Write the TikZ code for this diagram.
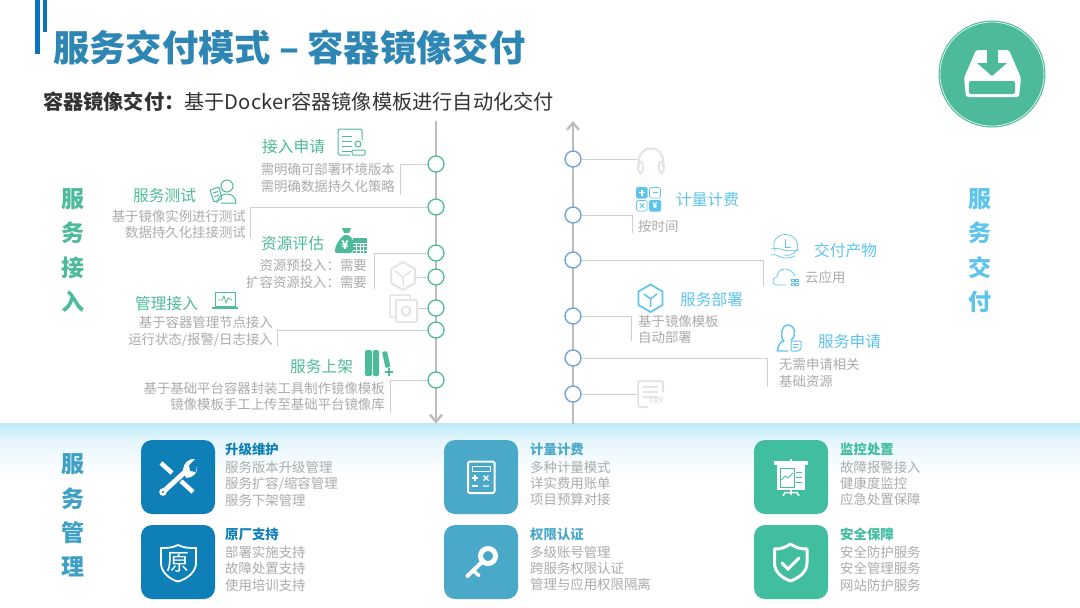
\documentclass[tikz,border=0pt]{standalone}
\usepackage{fontspec}
\setmainfont{Noto Sans CJK SC}
\usetikzlibrary{arrows.meta}
\definecolor{titleblue}{HTML}{2E86B4}
\definecolor{barblue}{HTML}{0A70C0}
\definecolor{leafgreen}{HTML}{4DBB9B}
\definecolor{skyblue}{HTML}{5EC4EC}
\definecolor{tileblue}{HTML}{0F7FB8}
\definecolor{tilelake}{HTML}{4AA8C8}
\definecolor{tilegreen}{HTML}{41BD9F}
\definecolor{notegray}{HTML}{ABABAB}
\definecolor{axisgray}{HTML}{BDBDBD}
\definecolor{linegray}{HTML}{CFCFCF}
\definecolor{fadegray}{HTML}{E4E4E4}
\definecolor{dotblue}{HTML}{6B9FD6}
\definecolor{bandtop}{HTML}{BDEBF8}
\definecolor{bandmid}{HTML}{E6F6FC}
\tikzset{
  note/.style={inner sep=0pt,text=notegray,font=\fontsize{13.4}{16.2}\selectfont},
  noter/.style={note,anchor=east,align=right},
  notel/.style={note,anchor=west,align=left},
  head/.style={inner sep=0pt,anchor=west,font=\fontsize{15.7}{18}\selectfont},
  tilehead/.style={inner sep=0pt,anchor=west,font=\fontsize{13.4}{16}\selectfont\bfseries},
  side/.style={inner sep=0pt,align=center,font=\fontsize{23}{34.4}\selectfont\bfseries},
  tile/.style={minimum size=74pt,inner sep=0pt,rounded corners=11pt},
  axisline/.style={draw=axisgray,line width=2.4pt,-{Straight Barb[length=7pt,width=12pt,line width=2.4pt]}},
  elbow/.style={draw=linegray,line width=1pt},
  dotg/.style={circle,draw=leafgreen,fill=white,line width=1.3pt,minimum size=16pt,inner sep=0pt},
  dotb/.style={circle,draw=dotblue,fill=white,line width=1.3pt,minimum size=16pt,inner sep=0pt},
  icong/.style={draw=leafgreen,line width=1pt},
  iconb/.style={draw=skyblue,line width=1pt},
  iconf/.style={draw=fadegray,line width=2pt},
  iconw/.style={draw=white,line width=2pt},
}
\begin{document}
\begin{tikzpicture}[x=1pt,y=-1pt]
    \useasboundingbox (0,0) rectangle (1080,608);
    \fill[white] (0,0) rectangle (1080,608);
    % title bars and heading
    \fill[barblue] (35,0) rectangle (40,53.5);
    \fill[barblue] (42.7,0) rectangle (47.3,32);
    \node[inner sep=0pt,anchor=west,text=titleblue,font=\fontsize{36.3}{40}\selectfont\bfseries] (title) at (53,47) {服务交付模式 – 容器镜像交付};
    \node[inner sep=0pt,anchor=west,text=black!80,font=\fontsize{20.2}{24}\selectfont] (subtitle) at (43,102) {\textbf{容器镜像交付：}基于Docker容器镜像模板进行自动化交付};
    % round badge
    \fill[leafgreen] (992,74) circle (53.5);
    \draw[white,line width=0.6pt] (992,74) circle (52);
    \fill[white,rounded corners=2.5pt] (976,50) -- (1009,50) -- (1021,78) -- (1019,97) -- (966,97) -- (964,78) -- cycle;
    \fill[leafgreen,rounded corners=2pt] (969,81) rectangle (1015,94);
    \fill[leafgreen] (987,49) -- (998,49) -- (998,63) -- (1007,63) -- (992,76) -- (977,63) -- (987,63) -- cycle;
    % bottom band
    \shade[top color=bandtop,bottom color=bandmid] (0,423.5) rectangle (1080,441);
    \shade[top color=bandmid,bottom color=white] (0,441) rectangle (1080,475);
    % two axes
    \coordinate (ltop) at (436,121);
    \coordinate (lend) at (436,423.5);
    \coordinate (rbot) at (573,423.5);
    \coordinate (rtop) at (573,121);
    \draw[axisline] (ltop) -- (lend);
    \draw[axisline] (rbot) -- (rtop);
    % points on the axes
    \foreach \n/\y in {la/164,lb/207,lc/253,ld/277,le/308,lf/330,lg/380}
      \node[dotg] (\n) at (436,\y) {};
    \foreach \n/\y in {ra/159,rb/215,rc/260,rd/316,re/358,rf/394}
      \node[dotb] (\n) at (573,\y) {};
    % elbow lines, left
    \foreach \n/\x/\y in {la/400/195,lb/250/238,lc/374/289,lf/277/346,lg/390/413} {
      \coordinate (\n e) at (\x,\y);
      \draw[elbow] (\n) -| (\n e);}
    \coordinate (lde) at (417,277);
    \coordinate (lee) at (417,308);
    \draw[elbow] (ld) -- (lde);
    \draw[elbow] (le) -- (lee);
    % elbow lines, right
    \foreach \n/\x/\y in {rb/632/233,rc/763/286,rd/631/341,re/767/387} {
      \coordinate (\n e) at (\x,\y);
      \draw[elbow] (\n) -| (\n e);}
    \coordinate (rae) at (637,159);
    \coordinate (rfe) at (637,394);
    \draw[elbow] (ra) -- (rae);
    \draw[elbow] (rf) -- (rfe);
    % side labels
    \node[side,text=leafgreen] (sidein) at (73,250.5) {服\\务\\接\\入};
    \node[side,text=skyblue] (sideout) at (980,250.5) {服\\务\\交\\付};
    \node[side,text=tilelake!80!tileblue] (sidemgr) at (73,515.5) {服\\务\\管\\理};
    % left labels
    \node[head,text=leafgreen] (h1) at (262,147) {接入申请};
    \node[noter] (n1) at (395,178) {需明确可部署环境版本\\需明确数据持久化策略};
    \node[head,text=leafgreen] (h2) at (133,196) {服务测试};
    \node[noter] (n2) at (246,224) {基于镜像实例进行测试\\数据持久化挂接测试};
    \node[head,text=leafgreen] (h3) at (261,244) {资源评估};
    \node[noter] (n3) at (367,274) {资源预投入：需要\\扩容资源投入：需要};
    \node[head,text=leafgreen] (h4) at (135,304) {管理接入};
    \node[noter] (n4) at (273,331.5) {基于容器管理节点接入\\运行状态/报警/日志接入};
    \node[head,text=leafgreen] (h5) at (290,367) {服务上架};
    \node[noter] (n5) at (385,396) {基于基础平台容器封装工具制作镜像模板\\镜像模板手工上传至基础平台镜像库};
    % right labels
    \node[head,text=skyblue] (h6) at (676,200) {计量计费};
    \node[notel] (n6) at (638,226) {按时间};
    \node[head,text=skyblue] (h7) at (814,251) {交付产物};
    \node[notel] (n7) at (805,277) {云应用};
    \node[head,text=skyblue] (h8) at (680,300) {服务部署};
    \node[notel] (n8) at (638,329.5) {基于镜像模板\\自动部署};
    \node[head,text=skyblue] (h9) at (818,342) {服务申请};
    \node[notel] (n9) at (779,373) {无需申请相关\\基础资源};
    % left icons
    \draw[icong,rounded corners=2pt] (350,155) -- (338,155) -- (338,129) -- (362,129) -- (362,140);
    \foreach \y in {136,141,146,151} \draw[icong] (342,\y) -- (352,\y);
    \draw[icong,fill=white] (358,144) circle (3);
    \draw[icong,fill=white,rounded corners=1pt] (352,150) rectangle (365,155);
    \draw[icong] (227,186) circle (6);
    \draw[icong] (217,203) .. controls (218,191) and (236,191) .. (236,203) -- (221,203);
    \draw[icong,rounded corners=1pt] (210,190) -- (219,187) -- (222,199) -- (214,202) -- cycle;
    \draw[icong] (213,193) -- (218,191.5) (214,197) -- (219,195);
    \fill[leafgreen] (342,228) -- (351,228) -- (349,233) -- (344,233) -- cycle;
    \fill[leafgreen,rounded corners=3pt] (344,235) -- (349,235) .. controls (353,239) and (353,240) .. (353,253) -- (339,253) .. controls (334,253) and (334,244) .. (344,235);
    \node[inner sep=0pt,text=white,font=\fontsize{12}{12}\selectfont\bfseries] (yen) at (345,245) {¥};
    \fill[leafgreen] (353,238) rectangle (367,253);
    \foreach \x in {356.5,360,363.5} \draw[white,line width=0.7pt] (\x,243) -- (\x,253);
    \foreach \y in {243,246.5,250} \draw[white,line width=0.7pt] (353,\y) -- (367,\y);
    \draw[icong] (215,292) rectangle (235,306);
    \draw[icong,line width=1.5pt] (212,308) -- (238,308);
    \draw[icong,line width=0.7pt] (218,300) -- (222,300) -- (224,296) -- (226,303) -- (228,298) -- (232,300);
    \fill[leafgreen,rounded corners=1.5pt] (365,350) rectangle (372,376);
    \fill[leafgreen,rounded corners=1.5pt] (373,350) rectangle (379,376);
    \fill[leafgreen,rounded corners=1pt] (382,352) -- (387,351) -- (390.5,367) -- (385.5,368) -- cycle;
    \draw[icong,line width=1.5pt] (385,372) -- (393,372) (389,368) -- (389,376);
    % faded icons, left
    \draw[iconf] (403,262) -- (415,269) -- (415,283) -- (403,290) -- (391,283) -- (391,269) -- cycle;
    \draw[iconf,line width=1.5pt] (395,271) -- (403,277) -- (411,271) (403,277) -- (403,286);
    \draw[iconf,line width=1.5pt,rounded corners=1pt] (397,317) -- (390,317) -- (390,295) -- (410,295) -- (410,299);
    \draw[iconf,rounded corners=1pt,fill=white] (396,300) rectangle (417,322);
    \draw[iconf] (406,311) circle (4.5);
    % right icons
    \draw[iconf] (639,167) .. controls (635,142) and (667,142) .. (663,167);
    \draw[iconf] (643,166) .. controls (643,160) and (638,160) .. (638,166) .. controls (638,176) and (643,176) .. (643,166);
    \draw[iconf] (659,166) .. controls (659,160) and (664,160) .. (664,166) .. controls (664,176) and (659,176) .. (659,166);
    \fill[skyblue,rounded corners=1.5pt] (636,187) rectangle (647.5,198.5);
    \draw[iconb,rounded corners=1.5pt,line width=0.7pt] (649.5,187.5) rectangle (660.5,198);
    \draw[iconb,rounded corners=1.5pt,line width=0.7pt] (636.5,200.5) rectangle (647,211);
    \fill[skyblue,rounded corners=1.5pt] (649,200) rectangle (661,211.5);
    \draw[white,line width=1.2pt] (639,192.7) -- (645,192.7) (642,190) -- (642,195.5);
    \draw[skyblue,line width=1pt] (652.5,192.7) -- (657.5,192.7);
    \draw[skyblue,line width=0.9pt] (640,203.5) -- (644,208) (644,203.5) -- (640,208);
    \node[inner sep=0pt,text=white,font=\fontsize{8}{8}\selectfont\bfseries] (yenb) at (655,205.7) {¥};
    \draw[iconb,line width=0.7pt] (775,251) .. controls (767,229) and (803,229) .. (797,251);
    \draw[iconb,line width=0.7pt] (785,239) -- (785,247) -- (791,247);
    \draw[iconb,line width=0.7pt] (771,249) .. controls (778,246) and (784,253) .. (797,250) .. controls (793,255) and (789,256) .. (784,255);
    \draw[iconb,line width=0.7pt] (771,255) .. controls (779,253) and (781,262) .. (795,256);
    \draw[iconb,line width=0.7pt] (786,285) -- (777,285) .. controls (771,285) and (772,277) .. (777,277) .. controls (777,267) and (791,266) .. (795,276);
    \foreach \x in {791,795} \foreach \y in {279,283} \draw[iconb,line width=0.6pt] (\x,\y) rectangle +(3,2.5);
    \draw[iconb,line width=1.7pt] (650.5,284.5) -- (662.5,291.5) -- (662.5,305) -- (650.5,312) -- (638.5,305) -- (638.5,291.5) -- cycle;
    \draw[iconb,line width=1.5pt] (644,294) -- (650.5,299) -- (657,294) (650.5,299) -- (650.5,307);
    \draw[iconb,line width=1.4pt] (784,342) .. controls (780,337) and (781,325) .. (788,325) .. controls (795,325) and (797,336) .. (791,340);
    \draw[iconb,line width=1.4pt] (784,340) .. controls (780,342) and (778,346) .. (777.5,351) -- (788,351);
    \draw[iconb,rounded corners=1pt] (791,341) -- (801,341) -- (801,349) -- (798,351) -- (791,351) -- cycle;
    \draw[iconb,line width=0.7pt] (793,344) -- (799,344) (793,347) -- (798,347);
    \draw[iconf,rounded corners=2pt] (648,407) -- (638,407) -- (638,381) -- (663,381) -- (663,392);
    \foreach \y in {387,392,397} \draw[iconf,line width=1.3pt] (643,\y) -- (658,\y);
    \node[inner sep=0pt,text=fadegray,font=\fontsize{8}{8}\selectfont\bfseries] (tryicon) at (656,401) {TRY};
    % management tiles
    \foreach \n/\x/\y/\c in {ta/178/477/tileblue,tb/178/562/tileblue,tc/481/477/tilelake,td/481/562/tilelake,te/791/477/tilegreen,tf/791/562/tilegreen}
      \node[tile,fill=\c] (\n) at (\x,\y) {};
    \foreach \n/\x/\y/\c/\t in {pa/225/449/tileblue/升级维护,pb/225/534/tileblue/原厂支持,pc/530/449/tilelake/计量计费,pd/530/534/tilelake/权限认证,pe/840/449/tilegreen/监控处置,pf/840/534/tilegreen/安全保障}
      \node[tilehead,text=\c] (\n) at (\x,\y) {\t};
    \node[notel] (qa) at (225,483.7) {服务版本升级管理\\服务扩容/缩容管理\\服务下架管理};
    \node[notel] (qb) at (225,568.7) {部署实施支持\\故障处置支持\\使用培训支持};
    \node[notel] (qc) at (530,483.7) {多种计量模式\\详实费用账单\\项目预算对接};
    \node[notel] (qd) at (530,568.7) {多级账号管理\\跨服务权限认证\\管理与应用权限隔离};
    \node[notel] (qe) at (840,483.7) {故障报警接入\\健康度监控\\应急处置保障};
    \node[notel] (qf) at (840,568.7) {安全防护服务\\安全管理服务\\网站防护服务};
    % tile icons
    \draw[white,line width=4.5pt] (161,463) -- (172,473) (181,481) -- (193,492);
    \draw[white,line width=5pt,line cap=round] (163,492) -- (186,471);
    \fill[white] (163,492) circle (3.8);
    \fill[tileblue] (163,492) circle (1.2);
    \fill[white] (183,469) .. controls (184,463) and (189,458) .. (195,459) -- (189,465) -- (190,471) -- (196,472) -- (197,466) .. controls (198,473) and (193,478) .. (186,478) -- cycle;
    \draw[iconw,line width=1.8pt] (178,545) .. controls (172,548) and (167,548) .. (161,548) -- (161,563) .. controls (161,572) and (169,579) .. (178,581.5) .. controls (187,579) and (196,572) .. (196,563) -- (196,548) .. controls (189,548) and (184,548) .. (178,545);
    \node[inner sep=0pt,text=white,fill=tileblue,font=\fontsize{23}{23}\selectfont] (yuan) at (178,562) {原};
    \draw[iconw,rounded corners=1.5pt] (468,461.5) rectangle (494.5,493);
    \draw[iconw,line width=1pt] (472,466) rectangle (490.5,471.5);
    \draw[white,line width=1.3pt] (472,478) -- (478,478) (475,475) -- (475,481) (472,486) -- (478,486);
    \draw[white,line width=1.3pt] (483.5,475.5) -- (488.5,480.5) (488.5,475.5) -- (483.5,480.5) (483,486) -- (489,486);
    \draw[white,line width=5pt] (488,556) circle (7.5);
    \draw[white,line width=4pt,line cap=round] (482,562) -- (467.5,576);
    \draw[white,line width=3.5pt,line cap=round] (473,570.5) -- (479,575.5);
    \fill[white] (774,461) rectangle (808,465.3);
    \fill[white] (790,458.5) rectangle (792,461);
    \fill[white] (777,465.3) rectangle (805,490);
    \draw[tilegreen,line width=0.8pt] (780,468) rectangle (794.5,487) (796,472) -- (802,472) (796,477) -- (802,477) (796,482) -- (802,482);
    \draw[tilegreen,line width=0.8pt] (781.5,480) -- (785,476) -- (788,478) -- (793,473);
    \draw[white,line width=1.5pt] (791,490) -- (791,495) (783,496) -- (785,492.5) -- (797,492.5) -- (799,496);
    \draw[iconw,line width=3pt,line join=round] (790.5,544) .. controls (785,548) and (780,549) .. (774.5,549) -- (774.5,563) .. controls (774.5,572) and (782,578) .. (790.5,581) .. controls (799,578) and (807,572) .. (807,563) -- (807,549) .. controls (801,549) and (796,548) .. (790.5,544);
    \draw[iconw,line width=3pt,line cap=round] (782,563) -- (788,569) -- (799,558);
\end{tikzpicture}
\end{document}
